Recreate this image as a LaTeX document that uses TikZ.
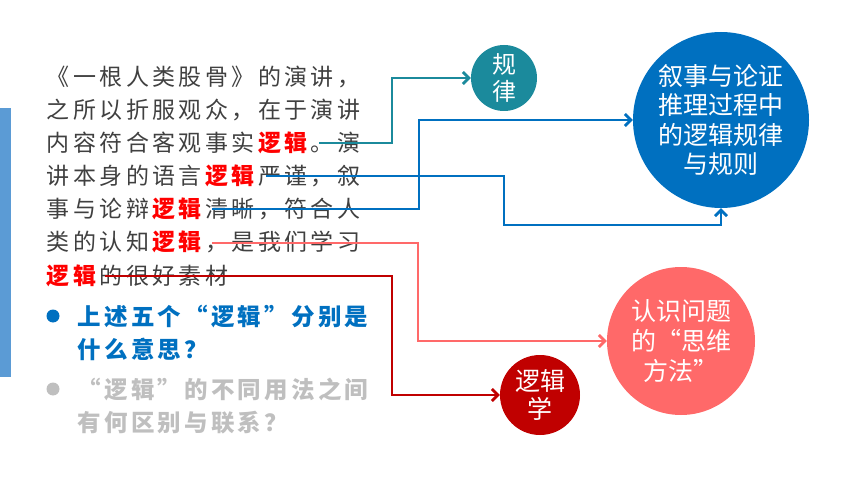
\documentclass[tikz,border=0pt]{standalone}
\usepackage{fontspec}
\newfontfamily\cjk{Noto Sans CJK SC}
\usetikzlibrary{arrows.meta}
\definecolor{tealC}{RGB}{27,138,156}
\definecolor{blueC}{HTML}{0070C0}
\definecolor{pinkC}{HTML}{FF6969}
\definecolor{darkredC}{HTML}{C00000}
\definecolor{barC}{HTML}{5B9BD5}
\definecolor{grayT}{HTML}{404040}
\definecolor{grayL}{HTML}{BFBFBF}
\definecolor{redW}{HTML}{FF0000}
\makeatletter
\newcommand\spc[2]{\@tfor\cc:=#2\do{\makebox[#1][c]{\cc}}}
\makeatother
\newcommand\pl[1]{\spc{26.4pt}{#1}}
\newcommand\rw[1]{{\color{redW}\bfseries\spc{26.4pt}{#1}}}
\begin{document}
\begin{tikzpicture}[x=1pt,y=-1pt,
  para/.style={anchor=base west,inner sep=0pt,text=grayT,font=\cjk\fontsize{23}{26}\selectfont},
  btext/.style={anchor=base west,inner sep=0pt,font=\cjk\bfseries\fontsize{23.5}{26}\selectfont},
  dot/.style={circle,inner sep=0pt,minimum size=13pt},
  circ/.style={circle,inner sep=0pt,text=white,align=center},
  conn/.style={line width=2.8pt,-{Straight Barb[length=6pt,width=12pt]}}]
\useasboundingbox (0,0) rectangle (860,484);
\fill[barC] (0,108) rectangle (11,377);
% paragraph
\node[para] (l1) at (45,86) {\pl{《一根人类股骨》的演讲，}};
\node[para] (l2) at (45,119) {\pl{之所以折服观众，在于演讲}};
\node[para] (l3) at (45,152) {\pl{内容符合客观事实}\rw{逻辑}\pl{。演}};
\node[para] (l4) at (45,185) {\pl{讲本身的语言}\rw{逻辑}\pl{严谨，叙}};
\node[para] (l5) at (45,218) {\pl{事与论辩}\rw{逻辑}\pl{清晰，符合人}};
\node[para] (l6) at (45,251) {\pl{类的认知}\rw{逻辑}\pl{，是我们学习}};
\node[para] (l7) at (45,284) {\rw{逻辑}\pl{的很好素材}};
% bullets
\node[dot,fill=blueC] (b1) at (53,316) {};
\node[btext,text=blueC] (q1) at (76,325) {\spc{26.7pt}{上述五个“逻辑”分别是}};
\node[btext,text=blueC] (q2) at (76,358) {\spc{26.7pt}{什么意思？}};
\node[dot,fill=grayL] (b2) at (53,389) {};
\node[btext,text=grayL] (q3) at (76,398) {\spc{26.7pt}{“逻辑”的不同用法之间}};
\node[btext,text=grayL] (q4) at (76,431) {\spc{26.7pt}{有何区别与联系？}};
% circles
\node[circ,fill=tealC,minimum size=66pt,font=\cjk\fontsize{24}{27}\selectfont] (gl) at (504,78) {规\\律};
\node[circ,fill=blueC,minimum size=176pt,font=\cjk\fontsize{25}{29.5}\selectfont] (big) at (721,120) {叙事与论证\\推理过程中\\的逻辑规律\\与规则};
\node[circ,fill=pinkC,minimum size=148pt,font=\cjk\fontsize{25}{30}\selectfont] (pk) at (681,341) {认识问题\\的“思维\\方法”};
\node[circ,fill=darkredC,minimum size=80pt,font=\cjk\fontsize{25}{28}\selectfont] (lx) at (540,395) {逻辑\\学};
% connector start points
\coordinate (c1) at (319,143);
\coordinate (c2) at (266,176);
\coordinate (c3) at (212,209);
\coordinate (c4) at (212,243);
\coordinate (c5) at (105,276);
\draw[conn,tealC] (c1) -- (392,143) |- (gl.west);
\draw[conn,blueC] (c2) -- (504,176) -- (504,225) -| (big.south);
\draw[conn,blueC] (c3) -- (419,209) |- (big.west);
\draw[conn,pinkC] (c4) -- (418,243) |- (pk.west);
\draw[conn,darkredC] (c5) -- (392,276) |- (lx.west);
\end{tikzpicture}
\end{document}
